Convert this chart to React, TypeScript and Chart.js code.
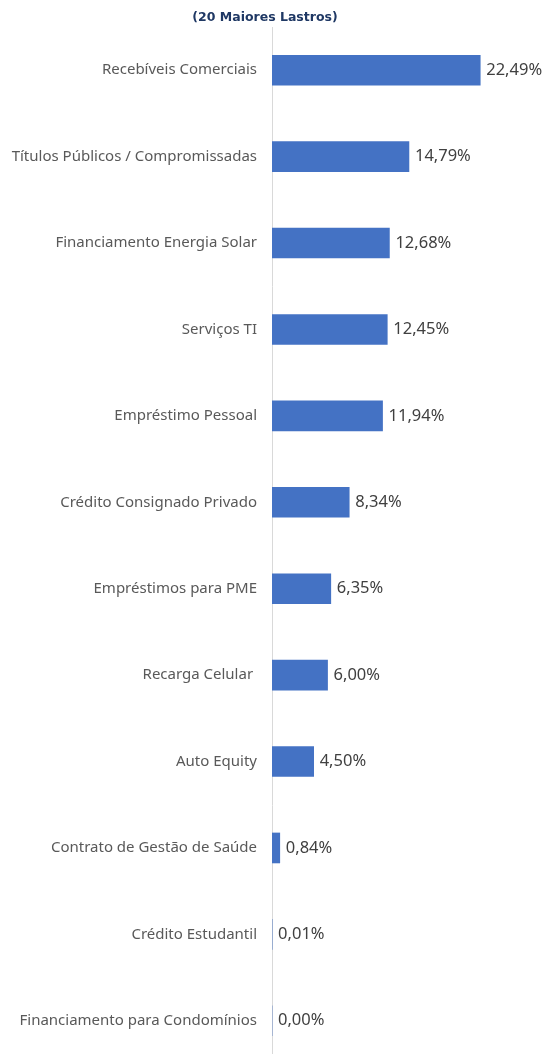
import React, { useEffect, useRef } from "react";
import { Chart, registerables } from "chart.js";

Chart.register(...registerables);

const categories = [
  "Recebíveis Comerciais",
  "Títulos Públicos / Compromissadas",
  "Financiamento Energia Solar",
  "Serviços TI",
  "Empréstimo Pessoal",
  "Crédito Consignado Privado",
  "Empréstimos para PME",
  "Recarga Celular ",
  "Auto Equity",
  "Contrato de Gestão de Saúde",
  "Crédito Estudantil",
  "Financiamento para Condomínios",
];

const values = [22.49, 14.79, 12.68, 12.45, 11.94, 8.34, 6.35, 6.0, 4.5, 0.84, 0.01, 0.0];

const titleText = "(20 Maiores Lastros)";

const fmt = (v: number) => v.toFixed(2).replace(".", ",") + "%";

const valueLabels = {
  id: "valueLabels",
  afterDatasetsDraw(chart: any) {
    const ctx = chart.ctx;
    const meta = chart.getDatasetMeta(0);
    ctx.save();
    ctx.font = "16.5px 'Noto Sans'";
    ctx.fillStyle = "#404040";
    ctx.textAlign = "left";
    ctx.textBaseline = "middle";
    meta.data.forEach((bar: any, i: number) => {
      ctx.fillText(fmt(values[i]), bar.x + 6, bar.y);
    });
    ctx.restore();
  },
};

const W = 546;
const H = 1064;

export default function App() {
  const ref = useRef<HTMLCanvasElement>(null);
  useEffect(() => {
    document.documentElement.style.overflow = "hidden";
    document.body.style.overflow = "hidden";
    if (!ref.current) return;
    const chart = new Chart(ref.current, {
      type: "bar",
      data: {
        labels: categories,
        datasets: [
          {
            data: values,
            backgroundColor: "#4472C4",
            borderWidth: 0,
            barThickness: 30,
          },
        ],
      },
      options: {
        indexAxis: "y",
        animation: false,
        responsive: false,
        layout: { padding: { left: 8, right: 24, top: 8, bottom: 0 } },
        plugins: {
          legend: { display: false },
          tooltip: { enabled: false },
          title: {
            display: true,
            text: titleText,
            color: "#1F3864",
            font: { family: "'DejaVu Sans'", size: 12.5, weight: "bold" },
            padding: { top: 2, bottom: 2 },
          },
        },
        scales: {
          x: {
            display: false,
            min: 0,
            max: 27,
          },
          y: {
            afterFit: (scale: any) => {
              scale.width = 264;
              scale.paddingTop = 0;
              scale.paddingBottom = 0;
            },
            grid: { display: false, drawTicks: false },
            border: { display: true, color: "#D9D9D9", width: 1 },
            ticks: {
              color: "#595959",
              padding: 15,
              font: { family: "'Noto Sans'", size: 15 },
            },
          },
        },
      },
      plugins: [valueLabels],
    });
    return () => chart.destroy();
  }, []);
  return (
    <div
      style={{
        position: "absolute",
        left: 0,
        top: 0,
        width: W,
        height: 1054,
        overflow: "hidden",
      }}
    >
      <canvas ref={ref} width={W} height={H} style={{ width: W, height: H, display: "block" }} />
    </div>
  );
}
